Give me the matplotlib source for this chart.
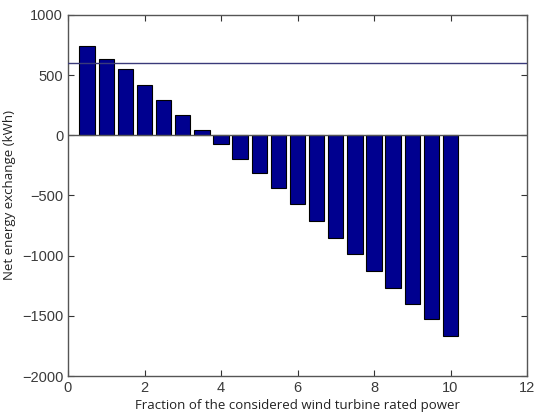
import matplotlib
matplotlib.use("Agg")
import matplotlib.pyplot as plt

fractions = [0.5, 1.0, 1.5, 2.0, 2.5, 3.0, 3.5, 4.0, 4.5, 5.0,
             5.5, 6.0, 6.5, 7.0, 7.5, 8.0, 8.5, 9.0, 9.5, 10.0]
net_energy = [740, 635, 555, 422, 292, 168, 47, -75, -200, -312,
              -436, -567, -712, -851, -989, -1128, -1266, -1405, -1530, -1665]
threshold = 600
xticks = [0, 2, 4, 6, 8, 10, 12]
yticks = [-2000, -1500, -1000, -500, 0, 500, 1000]

fig = plt.figure(figsize=(5.34, 4.17), dpi=100)
ax = fig.add_axes([68/534, 1-376/417, 459/534, 361/417])

ax.bar(fractions, net_energy, width=0.4, color="#00008F", edgecolor="black", linewidth=0.8, zorder=2)
ax.axhline(0, color="#555555", linewidth=1.0, zorder=3)
ax.axhline(threshold, color="#3a3a7a", linewidth=1.0, zorder=3)

ax.set_xlim(0, 12)
ax.set_ylim(-2000, 1000)
ax.set_xticks(xticks)
ax.set_yticks(yticks)
ax.tick_params(direction="in", top=True, right=True, length=4, width=0.8,
               labelsize=10.5, colors="#333333", labelcolor="#3a3a3a")
for lab in ax.get_xticklabels() + ax.get_yticklabels():
    lab.set_fontfamily("Liberation Sans")
for s in ax.spines.values():
    s.set_color("#555555")
    s.set_linewidth(1.0)

ax.set_xlabel("Fraction of the considered wind turbine rated power", fontsize=9.5,
              family="Open Sans", color="#222222", labelpad=3)
ax.set_ylabel("Net energy exchange (kWh)", fontsize=9.5, family="Open Sans",
              color="#222222", labelpad=4)

fig.savefig("out.png", dpi=100)
